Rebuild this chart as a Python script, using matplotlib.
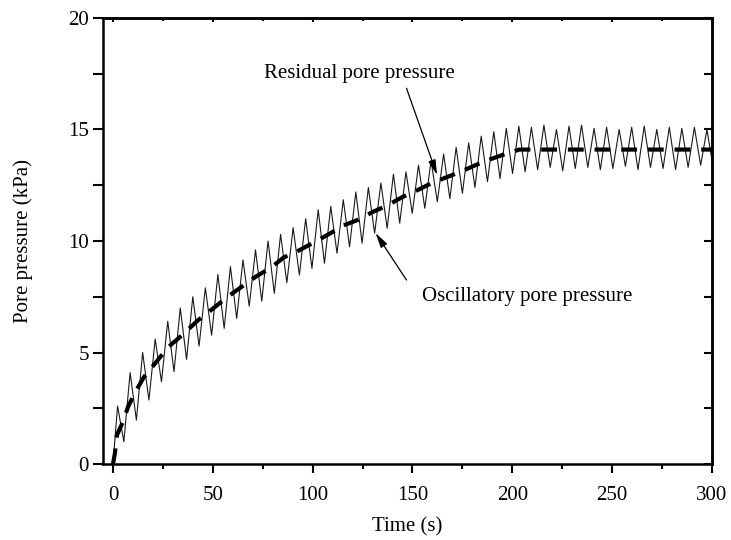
import numpy as np
import matplotlib
matplotlib.use('Agg')
import matplotlib.pyplot as plt
from matplotlib.ticker import MultipleLocator

plt.rcParams['font.family'] = ['Liberation Serif', 'DejaVu Serif']
plt.rcParams['font.size'] = 15

# Residual pore pressure (dashed)
res_t = [0, 1, 2, 5, 7.5, 11, 15.5, 21, 27.5, 34.5, 42.5, 49.5, 57, 64, 71.5, 79,
         85.5, 93, 100.5, 108, 115.5, 123, 130, 137.5, 144.5, 152, 159, 166.5,
         174, 181, 188.5, 195.5, 203.5, 300]
res_p = [0, 0.5, 1.3, 1.9, 2.55, 3.2, 3.9, 4.5, 5.23, 5.77, 6.44, 6.93, 7.47, 7.92,
         8.4, 8.8, 9.26, 9.57, 9.93, 10.3, 10.7, 10.96, 11.3, 11.6, 11.95, 12.26,
         12.57, 12.84, 13.1, 13.38, 13.65, 13.87, 14.1, 14.1]

# Oscillatory pore pressure: peaks and troughs
peak_t0 = 2.3
period = 6.28
peak_p = [2.6, 4.1, 5.0, 5.6, 6.4, 7.0, 7.5, 7.9, 8.5, 8.85, 9.15, 9.6, 10.0, 10.3,
          10.6, 11.0, 11.4, 11.55, 11.85, 12.2, 12.4, 12.6, 13.0, 13.1, 13.4, 13.6,
          13.9, 14.2, 14.4, 14.7, 14.9, 15.05, 15.15, 15.1, 15.2, 15.0, 15.15, 15.2,
          15.05, 15.1, 15.0, 15.1, 15.15, 15.0, 15.1, 15.05, 15.1, 15.0]
trough_p = [1.0, 1.97, 2.87, 3.69, 4.14, 4.69, 5.29, 5.78, 6.08, 6.53, 7.08, 7.3,
            7.65, 8.13, 8.47, 8.77, 9.0, 9.45, 9.74, 9.9, 10.35, 10.57, 10.8, 11.24,
            11.47, 11.76, 11.9, 12.14, 12.4, 12.66, 12.8, 13.03, 13.1, 13.2, 13.3,
            13.15, 13.25, 13.3, 13.2, 13.25, 13.35, 13.2, 13.3, 13.25, 13.2, 13.3,
            13.4, 13.3]

osc_t = [0.0]
osc_p = [0.0]
for k in range(len(peak_p)):
    osc_t += [peak_t0 + k * period, peak_t0 + (k + 0.5) * period]
    osc_p += [peak_p[k], trough_p[k]]

fig = plt.figure(figsize=(7.31, 5.40), dpi=100)
ax = fig.add_axes([0.1409, 0.1407, 0.8331, 0.8260])

ax.plot(osc_t, osc_p, color='#1a1a1a', lw=0.8)
ax.plot(res_t, res_p, color='black', lw=3, dashes=(3.8, 2.6))

ax.set_xlim(-5, 300)
ax.set_ylim(0, 20)
ax.xaxis.set_major_locator(MultipleLocator(50))
ax.xaxis.set_minor_locator(MultipleLocator(25))
ax.yaxis.set_major_locator(MultipleLocator(5))
ax.yaxis.set_minor_locator(MultipleLocator(2.5))

for s in ax.spines.values():
    s.set_linewidth(1.8)

ax.tick_params(axis='x', which='major', direction='out', length=6.5, width=1.5, pad=9)
ax.tick_params(axis='x', which='minor', direction='out', length=3.6, width=1.5)
ax.tick_params(axis='y', which='both', direction='out', length=7.2, width=1.5, pad=3)

top = ax.secondary_xaxis('top')
top.xaxis.set_major_locator(MultipleLocator(50))
top.xaxis.set_minor_locator(MultipleLocator(25))
top.tick_params(which='major', direction='in', length=3, width=1.5, labeltop=False)
top.tick_params(which='minor', direction='in', length=2, width=1.5)
top.spines['top'].set_linewidth(1.8)

right = ax.secondary_yaxis('right')
right.yaxis.set_major_locator(MultipleLocator(5))
right.yaxis.set_minor_locator(MultipleLocator(2.5))
right.tick_params(which='both', direction='in', length=6, width=1.5, labelright=False)
right.spines['right'].set_linewidth(1.8)

ax.set_xlabel('Time (s)', labelpad=9)
ax.set_ylabel('Pore pressure (kPa)', labelpad=25)

arrow = dict(arrowstyle='-|>,head_length=0.6,head_width=0.15', color='black', lw=0.9,
             shrinkA=0, shrinkB=0)
ax.text(75.5, 17.5, 'Residual pore pressure', ha='left', va='center')
ax.annotate('', xy=(162.3, 12.96), xytext=(147, 16.85), arrowprops=arrow)
ax.text(155, 7.5, 'Oscillatory pore pressure', ha='left', va='center')
ax.annotate('', xy=(131.5, 10.36), xytext=(147, 8.25), arrowprops=arrow)

fig.savefig('out.png', dpi=100)
